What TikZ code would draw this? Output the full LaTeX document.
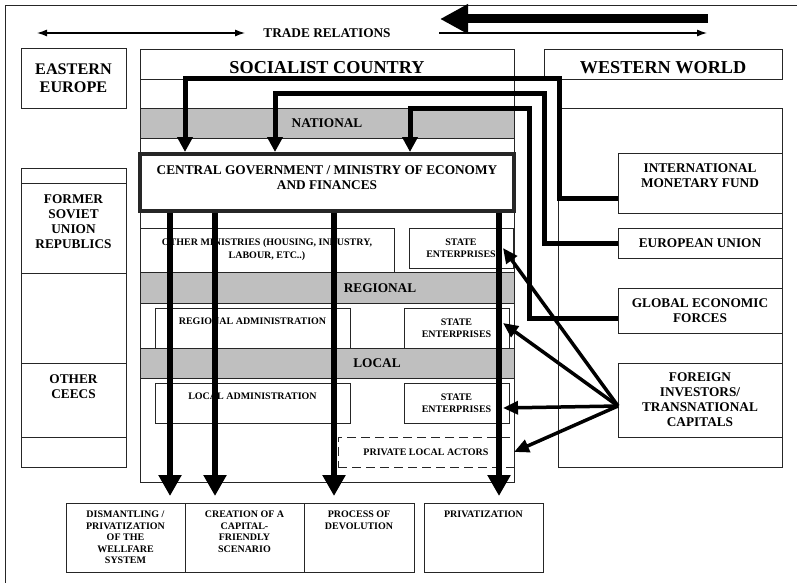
\documentclass[tikz,border=0pt]{standalone}
\usepackage{fontspec}
\setmainfont{Liberation Serif}
\usetikzlibrary{arrows.meta,positioning}

\newcommand{\sctitle}{\fontsize{18.2}{21}\selectfont\bfseries}
\newcommand{\sceast}{\fontsize{16.2}{17.5}\selectfont\bfseries}
\newcommand{\sclevel}{\fontsize{13.3}{15}\selectfont\bfseries}
\newcommand{\sccell}{\fontsize{10}{11.5}\selectfont\bfseries}

\begin{document}
\begin{tikzpicture}[x=1pt, y=-1pt, node distance=0pt]
    % Define styles
    \tikzstyle{cell} = [rectangle, draw=black!85, line width=0.8pt, outer sep=0pt, inner sep=0pt, align=center, font=\sccell]
    \tikzstyle{band} = [cell, fill=black!25, font=\sclevel]
    \tikzstyle{tag} = [inner sep=0pt, align=center, font=\sccell]
    \tikzstyle{feed} = [line width=5pt, -{Triangle[length=15pt,width=15pt]}]
    \tikzstyle{flow} = [line width=6pt, -{Triangle[length=21pt,width=22pt]}, shorten >=7pt]
    \tikzstyle{invest} = [line width=3.5pt, -{Triangle[length=15pt,width=13pt]}]
    \tikzstyle{trade} = [line width=1.2pt]

    \useasboundingbox (0,0) rectangle (797,583);
    \draw[line width=0.8pt, black!85] (5,583) -- (5,5) -- (797,5);

    % Trade relations
    \coordinate (tl1) at (37,33);
    \coordinate (tl2) at (245,33);
    \coordinate (tr1) at (439,33);
    \coordinate (tr2) at (707,33);
    \coordinate (big1) at (708,19);
    \coordinate (big2) at (440,19);
    \draw[trade, {Latex[length=10pt,width=7pt]}-{Latex[length=10pt,width=7pt]}] (tl1) -- (tl2);
    \node[font=\sclevel] (trade) at (327,33.5) {TRADE RELATIONS};
    \draw[trade, -{Latex[length=10pt,width=7pt]}] (tr1) -- (tr2);
    \draw[line width=9pt, -{Triangle[length=28pt,width=28pt]}] (big1) -- (big2);

    % Headers
    \node[cell, font=\sceast, minimum width=105, minimum height=60] (east) at (73.5,78) {EASTERN\\EUROPE};
    \node[cell, font=\sctitle, text height=20pt, text depth=0pt, minimum width=374, minimum height=30] (soc) at (327,64) {SOCIALIST COUNTRY};
    \node[cell, font=\sctitle, text height=19pt, text depth=0pt, minimum width=238, minimum height=30] (west) at (663,64) {WESTERN WORLD};

    % Former socialist neighbours
    \node[cell, minimum width=105, minimum height=15] (ltop) at (73.5,175.5) {};
    \node[cell, minimum width=105, minimum height=90, below=of ltop] (fsu) {};
    \node[cell, minimum width=105, minimum height=90, below=of fsu] (lmid) {};
    \node[cell, minimum width=105, minimum height=74, below=of lmid] (ceec) {};
    \node[cell, minimum width=105, minimum height=30, below=of ceec] (lbot) {};
    \node[tag, font=\sclevel, below=11pt of fsu.north] (fsutext) {FORMER\\SOVIET\\UNION\\REPUBLICS};
    \node[tag, font=\sclevel, below=11pt of ceec.north] (ceectext) {OTHER\\CEECS};

    % Socialist country
    \node[cell, minimum width=374, minimum height=403] (panel) at (327,280.5) {};
    \node[band, minimum width=374, minimum height=30] (national) at (327,123) {NATIONAL};
    \node[cell, line width=4pt, outer sep=2pt, minimum width=374, minimum height=57] (gov) at (327,182.5) {};
    \node[tag, font=\sclevel] (govtext) at (327,177.5) {CENTRAL GOVERNMENT / MINISTRY OF ECONOMY\\AND FINANCES};
    \node[cell, font=\fontsize{10}{13}\selectfont\bfseries, minimum width=254, minimum height=44] (mins) at (267,250) {OTHER MINISTRIES (HOUSING, INDUSTRY,\\LABOUR, ETC..)};
    \node[cell, minimum width=104, minimum height=40] (sen) at (461,248) {STATE\\ENTERPRISES};
    \node[band, minimum width=374, minimum height=31] (regional) at (327,287.5) {};
    \node[tag, font=\sclevel] (regtext) at (380,288) {REGIONAL};
    \node[cell, minimum width=195, minimum height=40] (radm) at (252.5,328) {};
    \node[tag, below=9.5pt of radm.north] (radmtext) {REGIONAL ADMINISTRATION};
    \node[cell, minimum width=105, minimum height=40] (ser) at (456.5,328) {STATE\\ENTERPRISES};
    \node[band, minimum width=374, minimum height=30] (local) at (327,363) {};
    \node[tag, font=\sclevel] (loctext) at (377,363) {LOCAL};
    \node[cell, minimum width=195, minimum height=40] (ladm) at (252.5,403) {};
    \node[tag, below=9.5pt of ladm.north] (ladmtext) {LOCAL ADMINISTRATION};
    \node[cell, minimum width=105, minimum height=40] (sel) at (456.5,403) {STATE\\ENTERPRISES};
    \node[cell, dash pattern=on 9pt off 5pt, minimum width=176, minimum height=30] (pla) at (426,452) {PRIVATE LOCAL ACTORS};

    % Western world
    \node[cell, minimum width=224, minimum height=359] (wpanel) at (670,287.5) {};
    \node[cell, minimum width=164, minimum height=60] (imf) at (700,183) {};
    \node[tag, font=\sclevel] (imftext) at (700,175.5) {INTERNATIONAL\\MONETARY FUND};
    \node[cell, font=\sclevel, minimum width=164, minimum height=30] (eu) at (700,243) {EUROPEAN UNION};
    \node[cell, font=\sclevel, minimum width=164, minimum height=45] (gef) at (700,310.5) {GLOBAL ECONOMIC\\FORCES};
    \node[cell, font=\sclevel, minimum width=164, minimum height=74] (fore) at (700,400) {FOREIGN\\INVESTORS/\\TRANSNATIONAL\\CAPITALS};

    % Outcomes
    \node[cell, minimum width=119, minimum height=69] (dism) at (125.5,537.5) {};
    \node[cell, minimum width=119, minimum height=69, right=of dism] (crea) {};
    \node[cell, minimum width=110, minimum height=69, right=of crea] (proc) {};
    \node[cell, minimum width=119, minimum height=69] (priv) at (483.5,537.5) {};
    \node[tag, below=8pt of dism.north] (dismtext) {DISMANTLING /\\PRIVATIZATION\\OF THE\\WELLFARE\\SYSTEM};
    \node[tag, below=8pt of crea.north] (creatext) {CREATION OF A\\CAPITAL-\\FRIENDLY\\SCENARIO};
    \node[tag, below=8pt of proc.north] (proctext) {PROCESS OF\\DEVOLUTION};
    \node[tag, below=8pt of priv.north] (privtext) {PRIVATIZATION};

    % Flows out of the central government
    \coordinate (g1) at ([xshift=-157pt]gov.south);
    \coordinate (g2) at ([xshift=-112pt]gov.south);
    \coordinate (g3) at ([xshift=7pt]gov.south);
    \coordinate (g4) at ([xshift=172pt]gov.south);
    \draw[flow] (g1) -- (g1 |- dism.north);
    \draw[flow] (g2) -- (g2 |- crea.north);
    \draw[flow] (g3) -- (g3 |- proc.north);
    \draw[flow] (g4) -- (g4 |- priv.north);

    % Western pressure
    \draw[feed] ([yshift=-15pt]imf.west) -| (559,79) -| ([xshift=-142pt]gov.north);
    \draw[feed] (eu.west) -| (544,94) -| ([xshift=-52pt]gov.north);
    \draw[feed] ([yshift=-7.5pt]gef.west) -| (529,109) -| ([xshift=83pt]gov.north);

    % Foreign capital
    \coordinate (fi) at ([yshift=-6pt]fore.west);
    \draw[invest] (fi) -- ([xshift=-10pt]sen.east);
    \draw[invest] (fi) -- ([xshift=-6pt,yshift=5pt]ser.east);
    \draw[invest] (fi) -- ([xshift=-6pt,yshift=-5pt]sel.east);
    \draw[invest] (fi) -- (pla.east);
\end{tikzpicture}
\end{document}
